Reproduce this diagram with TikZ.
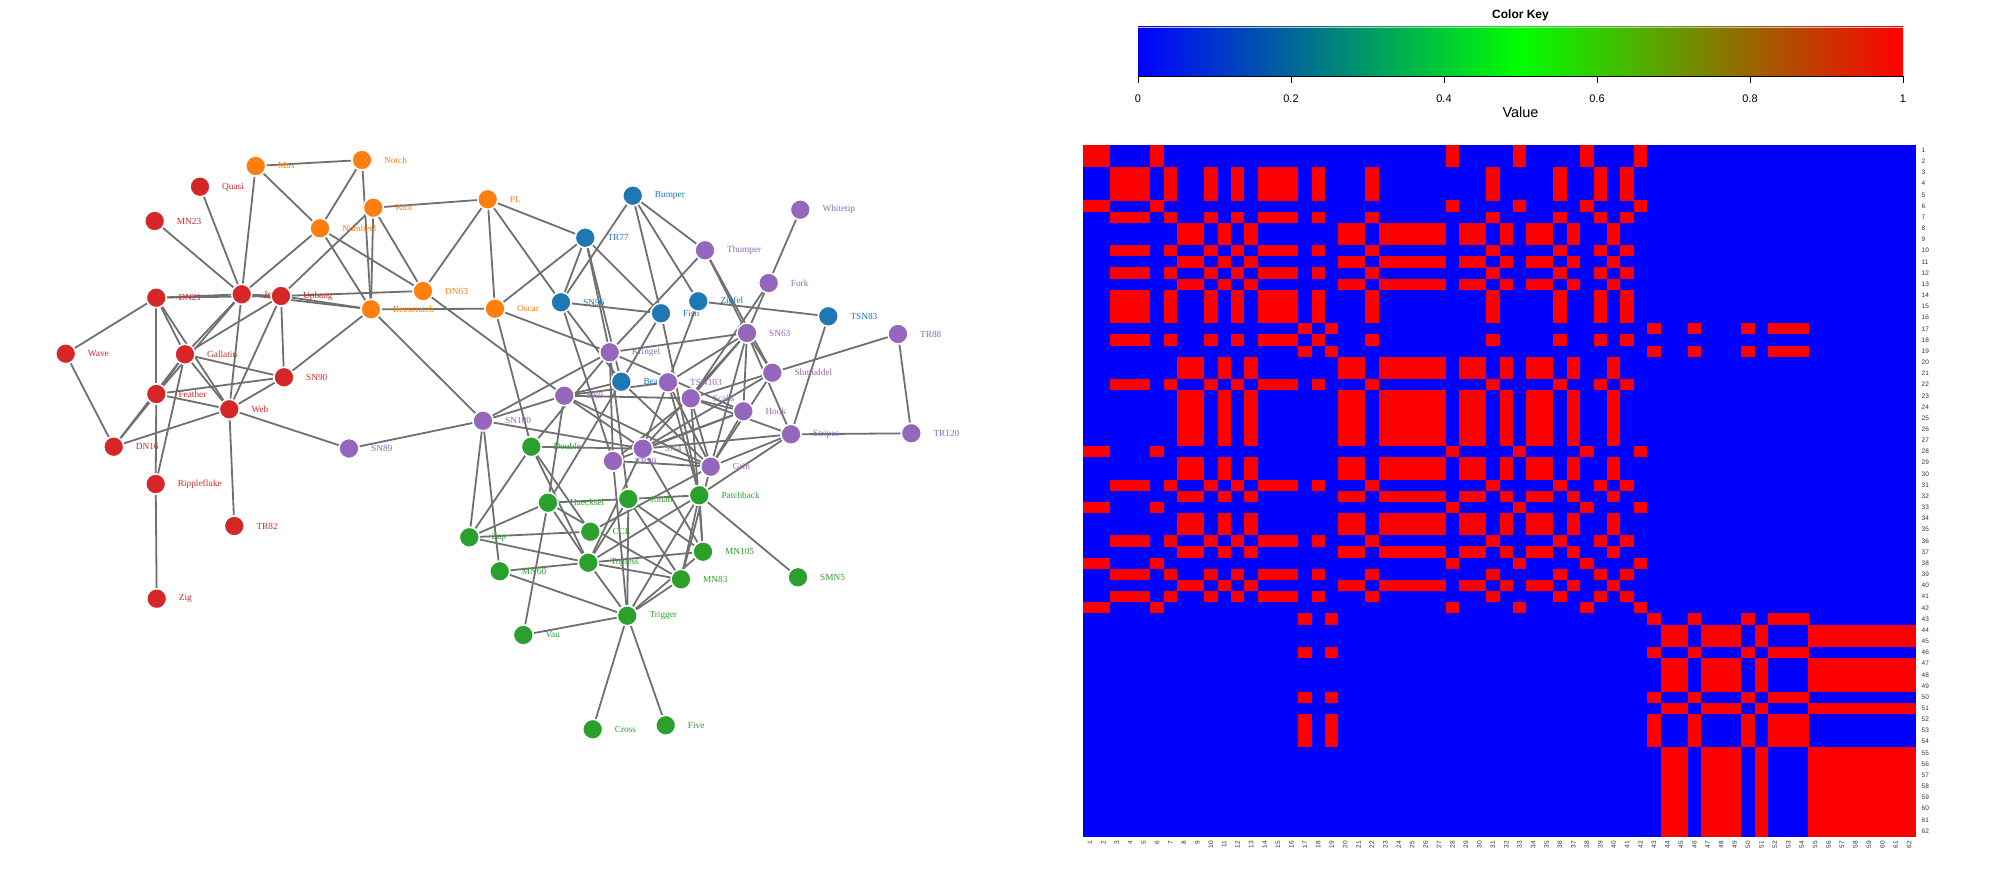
\documentclass[tikz,border=0pt]{standalone}
\usepackage{fontspec}
\setmainfont{Liberation Serif}
\newfontfamily\hsans{Liberation Sans}
\pgfdeclarelayer{bg}
\pgfsetlayers{bg,main}
\definecolor{cR}{HTML}{D62728}
\definecolor{cO}{HTML}{FF7F0E}
\definecolor{cB}{HTML}{1F77B4}
\definecolor{cP}{HTML}{9467BD}
\definecolor{cG}{HTML}{2CA02C}
\definecolor{edgegray}{RGB}{112,112,112}
\definecolor{hblue}{RGB}{0,0,255}
\definecolor{hred}{RGB}{255,0,0}
\definecolor{hgreen}{RGB}{0,255,0}
\tikzset{
  dot/.style={circle,minimum size=20pt,inner sep=0pt,draw=white,line width=1.5pt},
  lbl/.style={font=\fontsize{9.3}{10}\selectfont,inner sep=0pt},
  edge/.style={draw=edgegray,line width=1.8pt},
  rowlbl/.style={font=\hsans\fontsize{6.5}{7}\selectfont,inner sep=0pt,text=black!80},
  keylbl/.style={font=\hsans\fontsize{11}{12}\selectfont,inner sep=0pt}
}
\newcommand\dnode[4]{\node[dot,fill=#4,label={[lbl,text=#4,label distance=11.25pt]right:#1}] (#1) at (#2,#3) {};}
\begin{document}
\begin{tikzpicture}[x=1pt,y=-1pt]
\useasboundingbox (0,0) rectangle (2000,874);
\begin{pgfonlayer}{bg}
\fill[white] (0,0) rectangle (2000,874);
\end{pgfonlayer}
% ---------------- network nodes (index order) ----------------
\dnode{Beak}{621.3}{381.7}{cB}
\dnode{Beescratch}{371}{309.3}{cO}
\dnode{Bumper}{632.7}{195.7}{cB}
\dnode{CCL}{590.3}{531.7}{cG}
\dnode{Cross}{592.7}{729.3}{cG}
\dnode{DN16}{113.7}{446.7}{cR}
\dnode{DN21}{156.3}{297.7}{cR}
\dnode{DN63}{423}{291}{cO}
\dnode{Double}{531.3}{446.7}{cG}
\dnode{Feather}{156.3}{394}{cR}
\dnode{Fish}{661}{313.3}{cB}
\dnode{Five}{665.7}{725.3}{cG}
\dnode{Fork}{768.7}{283}{cP}
\dnode{Gallatin}{185}{354.3}{cR}
\dnode{Grin}{710.7}{466.7}{cP}
\dnode{Haecksel}{548}{502.7}{cG}
\dnode{Hook}{743.3}{411.3}{cP}
\dnode{Jet}{241.7}{294.3}{cR}
\dnode{Jonah}{628.3}{499}{cG}
\dnode{Knit}{373.3}{207.7}{cO}
\dnode{Kringel}{609.7}{352.3}{cP}
\dnode{MN105}{703}{551.7}{cG}
\dnode{MN23}{154.7}{221}{cR}
\dnode{MN60}{499.7}{571.3}{cG}
\dnode{MN83}{681}{579.3}{cG}
\dnode{Mus}{255.7}{166}{cO}
\dnode{Notch}{362}{160}{cO}
\dnode{Number1}{320}{228.3}{cO}
\dnode{Oscar}{495}{308.7}{cO}
\dnode{Patchback}{699.3}{495.3}{cG}
\dnode{PL}{487.7}{199.3}{cO}
\dnode{Quasi}{200}{186.7}{cR}
\dnode{Ripplefluke}{155.7}{484}{cR}
\dnode{Scabs}{690.7}{398.3}{cP}
\dnode{Shmuddel}{772.3}{372.7}{cP}
\dnode{SMN5}{798}{577.3}{cG}
\dnode{SN100}{483}{420.8}{cP}
\dnode{SN4}{642.7}{448.7}{cP}
\dnode{SN63}{747}{333}{cP}
\dnode{SN89}{349}{448.5}{cP}
\dnode{SN9}{564.3}{395.7}{cP}
\dnode{SN90}{284}{377.3}{cR}
\dnode{SN96}{561}{302.3}{cB}
\dnode{Stripes}{791}{434.3}{cP}
\dnode{Thumper}{705}{250.3}{cP}
\dnode{Topless}{588.3}{562.7}{cG}
\dnode{TR120}{911.3}{433.3}{cP}
\dnode{TR77}{585.3}{237.7}{cB}
\dnode{TR82}{234.3}{526}{cR}
\dnode{TR88}{898}{334}{cP}
\dnode{TR99}{613}{461}{cP}
\dnode{Trigger}{627.3}{615.7}{cG}
\dnode{TSN103}{668}{382.3}{cP}
\dnode{TSN83}{828.3}{316.3}{cB}
\dnode{Upbang}{281}{296}{cR}
\dnode{Vau}{523.3}{635}{cG}
\dnode{Wave}{65.7}{353.7}{cR}
\dnode{Web}{229.3}{409.3}{cR}
\dnode{Whitetip}{800.3}{209.7}{cP}
\dnode{Zap}{469.3}{537.3}{cG}
\dnode{Zig}{156.7}{598.7}{cR}
\dnode{Zipfel}{698.3}{301.3}{cB}
% ---------------- network edges ----------------
\begin{pgfonlayer}{bg}
\foreach \a/\b in {Double/CCL,Feather/DN16,Feather/DN21,Fish/Beak,Fish/Bumper,Gallatin/DN16,Gallatin/DN21,Gallatin/Feather,Grin/Beak,Grin/CCL,Haecksel/Beak,Hook/Grin,Jet/Beescratch,Jet/DN21,Jet/Feather,Jet/Gallatin,Jonah/Haecksel,Knit/Beescratch,Knit/DN63,Kringel/Double,Kringel/Hook,Kringel/Jonah,MN105/Jonah,MN23/Jet,MN83/Grin,MN83/Haecksel,MN83/Jonah,Mus/Jet,Notch/Beescratch,Notch/Mus,Number1/Beescratch,Number1/DN63,Number1/Jet,Number1/Mus,Number1/Notch,Oscar/Beescratch,Oscar/Double,Oscar/Kringel,Patchback/Fish,Patchback/Jonah,Patchback/MN105,Patchback/MN83,PL/DN63,PL/Knit,PL/Oscar,Quasi/Jet,Ripplefluke/Feather,Ripplefluke/Gallatin,Scabs/Fork,Scabs/Grin,Scabs/Hook,Scabs/MN105,Shmuddel/Grin,Shmuddel/Scabs,SMN5/Patchback,SN100/Beescratch,SN100/Kringel,SN100/MN60,SN4/Double,SN4/Grin,SN4/Hook,SN4/MN105,SN4/Shmuddel,SN4/SN100,SN63/Grin,SN63/Hook,SN63/Kringel,SN63/Scabs,SN63/Shmuddel,SN63/SN4,SN89/SN100,SN9/Beak,SN9/DN63,SN9/Grin,SN9/Haecksel,SN9/Scabs,SN9/SN100,SN9/SN4,SN90/Beescratch,SN90/Feather,SN90/Gallatin,SN96/Beak,SN96/Bumper,SN96/Fish,SN96/PL,Stripes/Grin,Stripes/Patchback,Stripes/Scabs,Stripes/SN4,Stripes/SN63,Thumper/Bumper,Thumper/Kringel,Thumper/Shmuddel,Thumper/SN63,Topless/Double,Topless/Haecksel,Topless/Jonah,Topless/MN105,Topless/MN60,Topless/MN83,Topless/Patchback,Topless/SN4,TR120/Stripes,TR77/Beak,TR77/Fish,TR77/Kringel,TR77/Oscar,TR77/PL,TR77/SN96,TR88/Shmuddel,TR88/TR120,TR99/Grin,TR99/Hook,TR99/Kringel,TR99/Scabs,TR99/SN96,Trigger/Cross,Trigger/Five,Trigger/Jonah,Trigger/MN105,Trigger/MN60,Trigger/MN83,Trigger/Patchback,Trigger/Topless,Trigger/TR99,TSN103/Grin,TSN103/Patchback,TSN103/SN63,TSN103/SN9,TSN83/Stripes,Upbang/Beescratch,Upbang/DN21,Upbang/DN63,Upbang/Gallatin,Upbang/Jet,Upbang/Knit,Upbang/SN90,Vau/Haecksel,Vau/Trigger,Wave/DN16,Wave/DN21,Web/DN16,Web/DN21,Web/Feather,Web/Gallatin,Web/Jet,Web/SN89,Web/SN90,Web/TR82,Web/Upbang,Whitetip/SN63,Zap/CCL,Zap/Double,Zap/Haecksel,Zap/SN100,Zap/Topless,Zig/Ripplefluke,Zipfel/Bumper,Zipfel/SN4,Zipfel/TSN83}
  \draw[edge] (\a) -- (\b);
\end{pgfonlayer}
% ---------------- color key ----------------
\node[font=\hsans\bfseries\fontsize{12}{13}\selectfont] (keytitle) at (1520.5,15) {Color Key};
\shade[left color=hblue,right color=hgreen] (1138,27) rectangle (1520.5,76);
\shade[left color=hgreen,right color=hred] (1520.4,27) rectangle (1903,76);
\draw[black!25,line width=0.6pt] (1138,27) -- (1903,27);
\draw[black,line width=0.8pt] (1138,76) -- (1903,76);
\foreach \v/\t [count=\k] in {0/0,0.2/0.2,0.4/0.4,0.6/0.6,0.8/0.8,1/1} {
  \draw[black,line width=0.8pt] ({1138+\v*765},76) -- ({1138+\v*765},83.5);
  \node[keylbl] (tk\k) at ({1138+\v*765},99) {\t};
}
\node[font=\hsans\fontsize{14.5}{15}\selectfont,inner sep=0pt] (keyvalue) at (1520.5,112) {Value};
% ---------------- heatmap ----------------
\fill[hblue] (1083.2,144.7) rectangle (1915.9,836.6);
\foreach \grp in {{1,2,6,28,33,38,42},{3,4,5,7,10,12,14,15,16,18,22,31,36,39,41},{8,9,11,13,20,21,23,24,25,26,27,29,30,32,34,35,37,40},{17,19,43,46,50,52,53,54},{44,45,47,48,49,51,55,56,57,58,59,60,61,62}} {
  \foreach \i in \grp {
    \foreach \j in \grp {
      \fill[hred] ({1083.2+(\j-1)*13.43},{144.7+(\i-1)*11.16}) rectangle ++(13.5,11.22);
    }
  }
}
\foreach \i in {1,...,62} {
  \node[rowlbl,anchor=west] (r\i) at (1921.5,{144.7+(\i-0.5)*11.16}) {\i};
  \node[rowlbl,anchor=east,rotate=90] (c\i) at ({1083.2+(\i-0.5)*13.43},841) {\i};
}
\end{tikzpicture}
\end{document}
